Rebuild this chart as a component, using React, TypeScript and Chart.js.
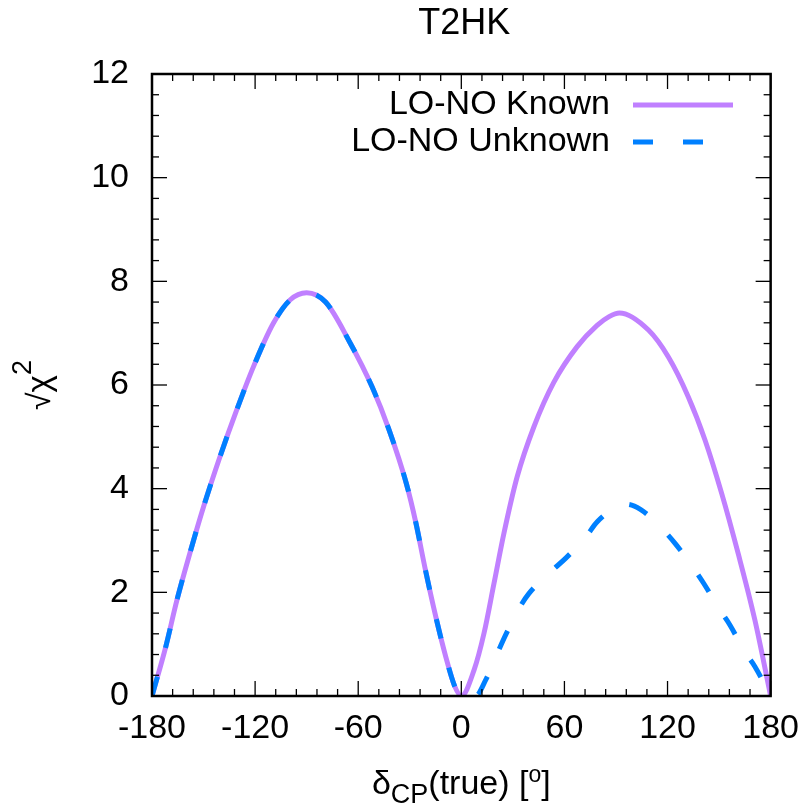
import React, { useEffect, useRef } from "react";
import { Chart, registerables } from "chart.js";

Chart.register(...registerables);

const TITLE = "T2HK";
const SERIES_NAMES = ["LO-NO Known", "LO-NO Unknown"];
const SERIES_COLORS = ["#c080ff", "#0080ff"];
const X_TICKS = [-180, -120, -60, 0, 60, 120, 180];
const Y_TICKS = [0, 2, 4, 6, 8, 10, 12];
const X_MINOR_STEP = 12;
const Y_MINOR_STEP = 0.4;

const knownDeg = [
  -180, -172, -165.5, -158, -150, -140.4, -130.7, -121, -109.4, -99.7, -90,
  -79, -65, -52, -42, -32, -26.5, -21, -15, -9, -4, 0, 7.4, 13.2, 19, 24.8,
  32.5, 42.2, 53.8, 67.4, 79, 86, 92, 108.9, 120.5, 132.1, 141.8, 151.5, 161.1,
  170.8, 180,
];
const knownVal = [
  0, 0.95, 1.85, 2.75, 3.65, 4.62, 5.52, 6.35, 7.19, 7.64, 7.78, 7.6, 6.83,
  5.97, 5.13, 4.1, 3.35, 2.45, 1.55, 0.75, 0.2, 0, 0.5, 1.21, 2.17, 3.14, 4.23,
  5.19, 6.05, 6.74, 7.15, 7.32, 7.39, 7.06, 6.54, 5.77, 4.94, 3.91, 2.75, 1.47,
  0,
];

const unknownDeg = [
  -180, -172, -165.5, -158, -150, -140.4, -130.7, -121, -109.4, -99.7, -90,
  -79, -65, -52, -42, -32, -26.5, -21, -15, -9, -4, -1, 8.3, 14.2, 20.9, 25.8,
  33.6, 39.4, 52.1, 60.8, 72.4, 79.1, 88, 96, 104.2, 116.8, 124.5, 135.3,
  141.1, 150.5, 156.3, 165, 170.8, 180,
];
const unknownVal = [
  0, 0.95, 1.85, 2.75, 3.65, 4.62, 5.52, 6.35, 7.19, 7.64, 7.78, 7.6, 6.83,
  5.97, 5.13, 4.1, 3.35, 2.45, 1.55, 0.75, 0.2, 0, 0, 0.31, 0.82, 1.18, 1.69,
  1.98, 2.4, 2.66, 3.07, 3.36, 3.6, 3.7, 3.6, 3.23, 2.94, 2.46, 2.17, 1.66,
  1.37, 0.85, 0.57, 0,
];

const FONT = "'Liberation Sans', Arial, sans-serif";

function drawParts(
  ctx: CanvasRenderingContext2D,
  parts: { t: string; size: number; dy: number }[],
  cx: number,
  baseline: number
) {
  let total = 0;
  const widths = parts.map((p) => {
    ctx.font = `${p.size}px ${FONT}`;
    const w = ctx.measureText(p.t).width;
    total += w;
    return w;
  });
  let x = cx - total / 2;
  ctx.textAlign = "left";
  ctx.textBaseline = "alphabetic";
  parts.forEach((p, i) => {
    ctx.font = `${p.size}px ${FONT}`;
    ctx.fillText(p.t, x, baseline + p.dy);
    x += widths[i];
  });
}

const decorations = {
  id: "decorations",
  afterDatasetsDraw(chart: any) {
    const { ctx, chartArea: a, scales } = chart;
    const x = scales.x;
    const y = scales.y;
    ctx.save();
    ctx.strokeStyle = "#000";
    ctx.lineWidth = 1.3;
    const seg = (x1: number, y1: number, x2: number, y2: number) => {
      ctx.beginPath();
      ctx.moveTo(x1, y1);
      ctx.lineTo(x2, y2);
      ctx.stroke();
    };
    const xMin = X_TICKS[0];
    const xMax = X_TICKS[X_TICKS.length - 1];
    const nx = Math.round((xMax - xMin) / X_MINOR_STEP);
    for (let i = 0; i <= nx; i++) {
      const v = xMin + i * X_MINOR_STEP;
      const px = x.getPixelForValue(v);
      const major = X_TICKS.some((t) => Math.abs(t - v) < 1e-6);
      const len = major ? 15 : 7;
      seg(px, a.bottom, px, a.bottom - len);
      seg(px, a.top, px, a.top + len);
    }
    const yMin = Y_TICKS[0];
    const yMax = Y_TICKS[Y_TICKS.length - 1];
    const ny = Math.round((yMax - yMin) / Y_MINOR_STEP);
    for (let i = 0; i <= ny; i++) {
      const v = yMin + i * Y_MINOR_STEP;
      const py = y.getPixelForValue(v);
      const major = Y_TICKS.some((t) => Math.abs(t - v) < 1e-6);
      const len = major ? 15 : 7;
      seg(a.left, py, a.left + len, py);
      seg(a.right, py, a.right - len, py);
    }
    ctx.lineWidth = 2.5;
    ctx.strokeRect(a.left, a.top, a.right - a.left, a.bottom - a.top);
    ctx.restore();
  },
  afterDraw(chart: any) {
    const { ctx, chartArea: a } = chart;
    ctx.save();
    ctx.fillStyle = "#000";
    const cx = (a.left + a.right) / 2;

    // title
    ctx.font = `36px ${FONT}`;
    ctx.textAlign = "center";
    ctx.textBaseline = "alphabetic";
    ctx.fillText(TITLE, cx + 3, 34);

    // x-axis title
    drawParts(
      ctx,
      [
        { t: "δ", size: 34, dy: 0 },
        { t: "CP", size: 27, dy: 9 },
        { t: "(true) [", size: 34, dy: 0 },
        { t: "o", size: 23, dy: -12 },
        { t: "]", size: 34, dy: 0 },
      ],
      cx,
      794
    );

    // y-axis title
    ctx.save();
    ctx.translate(50, (a.top + a.bottom) / 2);
    ctx.rotate(-Math.PI / 2);
    drawParts(
      ctx,
      [
        { t: "√", size: 32, dy: 0 },
        { t: "χ", size: 33, dy: 0 },
        { t: "2", size: 27, dy: -19 },
      ],
      0,
      0
    );
    ctx.restore();

    // legend
    const textRight = 610;
    const lineStart = 633;
    const lineEnd = 733;
    const rows = [105, 142];
    chart.data.datasets.forEach((ds: any, i: number) => {
      const ry = rows[i];
      ctx.font = `34px ${FONT}`;
      ctx.textAlign = "right";
      ctx.textBaseline = "middle";
      ctx.fillStyle = "#000";
      ctx.fillText(ds.label, textRight, ry);
      ctx.beginPath();
      ctx.strokeStyle = ds.borderColor;
      ctx.lineWidth = ds.borderWidth;
      ctx.lineCap = "butt";
      ctx.setLineDash(ds.borderDash || []);
      ctx.moveTo(lineStart, ry);
      ctx.lineTo(lineEnd, ry);
      ctx.stroke();
      ctx.setLineDash([]);
    });
    ctx.restore();
  },
};

export default function App() {
  const ref = useRef<HTMLCanvasElement | null>(null);

  useEffect(() => {
    if (!ref.current) return;
    const chart = new Chart(ref.current, {
      type: "line",
      data: {
        datasets: [
          {
            label: SERIES_NAMES[0],
            data: knownDeg.map((d, i) => ({ x: d, y: knownVal[i] })),
            borderColor: SERIES_COLORS[0],
            backgroundColor: SERIES_COLORS[0],
            borderWidth: 5,
            pointRadius: 0,
            cubicInterpolationMode: "monotone",
            fill: false,
            order: 1,
          },
          {
            label: SERIES_NAMES[1],
            data: unknownDeg.map((d, i) => ({ x: d, y: unknownVal[i] })),
            borderColor: SERIES_COLORS[1],
            backgroundColor: SERIES_COLORS[1],
            borderWidth: 5,
            borderDash: [20, 30],
            borderCapStyle: "butt",
            pointRadius: 0,
            cubicInterpolationMode: "monotone",
            fill: false,
            order: 0,
          },
        ],
      },
      options: {
        animation: false,
        responsive: false,
        devicePixelRatio: 1,
        layout: { padding: { left: 0, right: 38, top: 74, bottom: 0 } },
        plugins: {
          legend: { display: false },
          tooltip: { enabled: false },
          title: { display: false },
        },
        scales: {
          x: {
            type: "linear",
            min: X_TICKS[0],
            max: X_TICKS[X_TICKS.length - 1],
            grid: { display: false, drawTicks: false },
            border: { display: false },
            afterFit: (s: any) => {
              s.height = 113;
            },
            afterBuildTicks: (s: any) => {
              s.ticks = X_TICKS.map((v) => ({ value: v }));
            },
            ticks: {
              autoSkip: false,
              maxRotation: 0,
              padding: 12,
              color: "#000",
              font: { family: FONT, size: 34 },
            },
          },
          y: {
            type: "linear",
            min: Y_TICKS[0],
            max: Y_TICKS[Y_TICKS.length - 1],
            grid: { display: false, drawTicks: false },
            border: { display: false },
            afterFit: (s: any) => {
              s.width = 152;
            },
            afterBuildTicks: (s: any) => {
              s.ticks = Y_TICKS.map((v) => ({ value: v }));
            },
            ticks: {
              autoSkip: false,
              padding: 23,
              color: "#000",
              font: { family: FONT, size: 34 },
            },
          },
        },
      },
      plugins: [decorations],
    });
    return () => chart.destroy();
  }, []);

  return (
    <div style={{ position: "absolute", left: 0, top: 0, width: 811, height: 809, background: "#fff" }}>
      <canvas ref={ref} width={811} height={809} style={{ display: "block" }} />
    </div>
  );
}
